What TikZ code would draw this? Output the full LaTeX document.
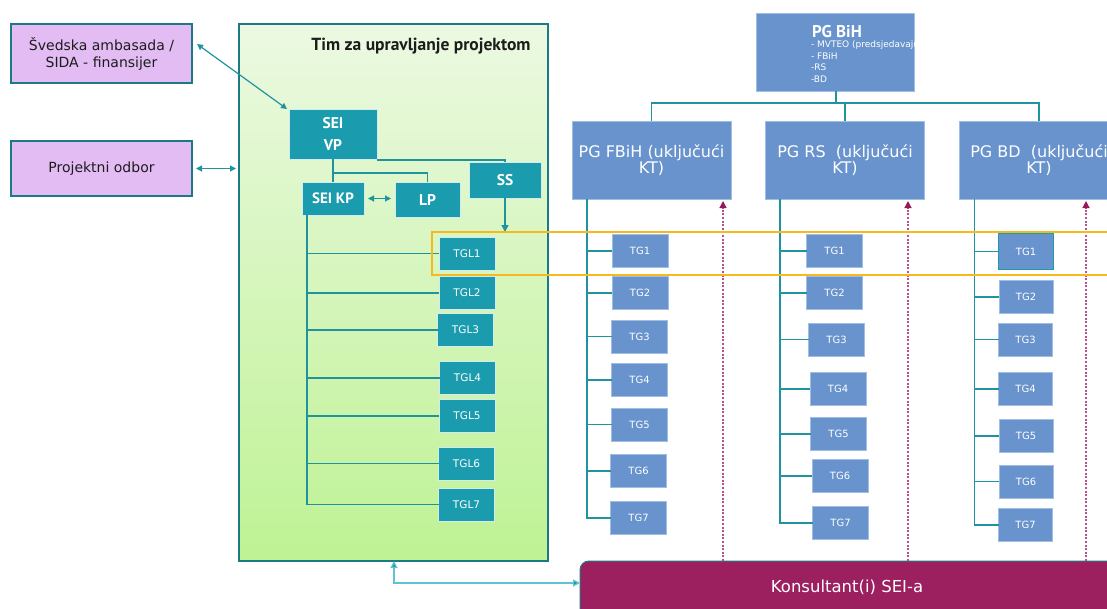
\documentclass[tikz,border=0pt]{standalone}
\usepackage{fontspec}
\setmainfont{DejaVu Sans}
\newfontfamily\headfont{PT Sans}
\usetikzlibrary{arrows.meta}

\definecolor{tealfill}{RGB}{26,156,174}
\definecolor{tealline}{RGB}{32,148,158}
\definecolor{tealdark}{RGB}{28,122,134}
\definecolor{bluefill}{RGB}{104,147,205}
\definecolor{blueedge}{RGB}{160,190,228}
\definecolor{violet}{RGB}{226,188,243}
\definecolor{greentop}{RGB}{236,249,226}
\definecolor{greenbot}{RGB}{190,242,148}
\definecolor{amber}{RGB}{246,186,28}
\definecolor{plum}{RGB}{156,31,96}
\definecolor{plumdash}{RGB}{184,80,140}
\definecolor{plumtip}{RGB}{150,25,90}
\definecolor{lightteal}{RGB}{96,196,208}
\definecolor{darktext}{RGB}{28,28,28}

\newcommand{\fs}[1]{\fontsize{#1}{#1}\selectfont}
\newcommand{\hb}[1]{\headfont\bfseries\fontsize{#1}{#1}\selectfont}

\begin{document}
\begin{tikzpicture}[x=1pt,y=-1pt,
  every node/.style={inner sep=0pt, outer sep=0pt},
  partner/.style={draw=tealdark, line width=1.3pt, fill=violet, text=darktext,
    align=center, font=\fs{14}, minimum width=181pt},
  tealbox/.style={draw=white!80!tealfill, line width=0.8pt, fill=tealfill, text=white,
    align=center},
  tglbox/.style={tealbox, minimum width=56pt, minimum height=33pt, font=\fs{10.5}},
  pgbox/.style={draw=blueedge, line width=0.6pt, fill=bluefill, text=white,
    align=center, minimum width=159pt, minimum height=78pt, font=\fs{16}},
  tgbox/.style={draw=blueedge, line width=0.6pt, fill=bluefill, text=white,
    minimum width=56pt, minimum height=33pt, font=\fs{10}},
  memberline/.style={anchor=base west, text=white, font=\fs{9}},
  conn/.style={draw=tealline, line width=1.5pt},
  biarrow/.style={draw=tealline, line width=1.2pt,
    {Triangle[length=6pt,width=6pt]}-{Triangle[length=6pt,width=6pt]}},
  lightarrow/.style={draw=lightteal, line width=1.2pt,
    {Triangle[length=7pt,width=7pt,fill=tealline]}-{Triangle[length=7pt,width=7pt,fill=tealline]}},
  dasharrow/.style={draw=plumdash, line width=1.2pt, dash pattern=on 2pt off 1.6pt,
    -{Triangle[length=7pt,width=7pt,fill=plumtip,color=plumtip]}}]

\useasboundingbox (0,0) rectangle (1107,608);
\fill[white] (0,0) rectangle (1107,608);

% ---------- left: partners and project management team ----------
\node[partner, minimum height=59pt] (sweden) at (101.5,53.5)
  {Švedska ambasada /\\[3pt] SIDA - finansijer};
\node[partner, minimum height=55pt] (board) at (101.5,168.5) {Projektni odbor};

\node[draw=tealdark, line width=1.3pt, top color=greentop, bottom color=greenbot,
  minimum width=309pt, minimum height=537pt] (team) at (393.5,292.5) {};
\node[font=\hb{17.5}, text=darktext] (title) at (421,46.5) {Tim za upravljanje projektom};

\node[tealbox, minimum width=88pt, minimum height=50pt, font=\hb{15.5}] (vp)
  at (333,134) {SEI\\[7pt]VP};
\node[tealbox, minimum width=72pt, minimum height=36pt, font=\hb{15.5}] (ss)
  at (505,180) {SS};
\node[tealbox, minimum width=62pt, minimum height=33pt, font=\hb{15}] (kp)
  at (333,198.5) {SEI KP};
\node[tealbox, minimum width=65pt, minimum height=35pt, font=\hb{15.5}] (lp)
  at (427.5,199.5) {LP};

\node[tglbox] (tgl1) at (467,253.5) {TGL1};
\node[tglbox] (tgl2) at (467,293) {TGL2};
\node[tglbox] (tgl3) at (465.5,330) {TGL3};
\node[tglbox] (tgl4) at (467.5,378) {TGL4};
\node[tglbox] (tgl5) at (467,416) {TGL5};
\node[tglbox] (tgl6) at (466.5,463.5) {TGL6};
\node[tglbox] (tgl7) at (466.5,504.5) {TGL7};

% links inside the team
\coordinate (vpjoin) at (333,173);
\coordinate (ssbus) at (505,160);
\draw[conn] (vp.south) -- (kp.north);
\draw[conn] (vpjoin) -| (lp.north);
\draw[conn] (vp.south east |- ssbus) -- (ssbus) -- (ss.north);
\draw[biarrow] ([xshift=4pt]kp.east) -- ([xshift=-4pt]lp.west |- kp.east);
\draw[conn, -{Triangle[length=7pt,width=7pt]}] (ss.south) -- (ss.south |- 0,232);

\coordinate (kpspine) at ([xshift=5pt]kp.south west);
\draw[conn] (kpspine) |- (tgl7.west);
\foreach \t in {tgl1,tgl2,tgl3,tgl4,tgl5,tgl6}
  \draw[conn] (\t.west) -- (\t.west -| kpspine);

% links to partners
\coordinate (swedtip) at (197,44);
\coordinate (vptip) at (287,109);
\draw[biarrow] (swedtip) -- (vptip);
\draw[biarrow] ([xshift=4pt]board.east) -- ([xshift=-3pt]board.east -| team.west);

% ---------- right: working groups ----------
\node[pgbox, minimum width=158pt] (pgbih) at (835,52) {};
\begin{scope}
  \clip (pgbih.south west) rectangle (pgbih.north east);
  \node[anchor=base west, text depth=0pt, text=white, font=\hb{17}] (bihtitle)
    at (812,37) {PG BiH};
  \node[memberline] (bih1) at (811,47.5) {- MVTEO (predsjedavajući)};
  \node[memberline] (bih2) at (811,59) {- FBiH};
  \node[memberline] (bih3) at (811,70.5) {-RS};
  \node[memberline] (bih4) at (811,82) {-BD};
\end{scope}

\node[pgbox] (pgf) at (651.5,160) {PG FBiH (uključući\\[0pt]KT)};
\node[pgbox] (pgrs) at (845,160) {PG RS\ \ (uključući\\[0pt]KT)};
\node[pgbox] (pgbd) at (1039,160) {PG BD\ \ (uključući\\[0pt]KT)};

\coordinate (bus) at (836,103);
\draw[conn] (pgbih.south -| bus) -- (bus);
\draw[conn] (pgf.north) |- (bus) -| (pgbd.north);
\draw[conn] (pgrs.north) -- (pgrs.north |- bus);

% FBiH groups
\node[tgbox] (f1) at (640,251) {TG1};
\node[tgbox] (f2) at (640,293) {TG2};
\node[tgbox] (f3) at (639.5,336.5) {TG3};
\node[tgbox] (f4) at (639.5,380) {TG4};
\node[tgbox] (f5) at (639.5,424.5) {TG5};
\node[tgbox] (f6) at (638.5,471) {TG6};
\node[tgbox] (f7) at (638.5,518) {TG7};
\coordinate (fspine) at ([xshift=15pt]pgf.south west);
\draw[conn] (fspine) |- (f7.west);
\foreach \t in {f1,f2,f3,f4,f5,f6}
  \draw[conn] (\t.west) -- (\t.west -| fspine);

% RS groups
\node[tgbox] (r1) at (834.5,251) {TG1};
\node[tgbox] (r2) at (834.5,293) {TG2};
\node[tgbox] (r3) at (836.5,339.5) {TG3};
\node[tgbox] (r4) at (838,389) {TG4};
\node[tgbox] (r5) at (838.5,434) {TG5};
\node[tgbox] (r6) at (840,476) {TG6};
\node[tgbox] (r7) at (840.5,523) {TG7};
\coordinate (rspine) at ([xshift=14.5pt]pgrs.south west);
\draw[conn] (rspine) |- (r7.west);
\foreach \t in {r1,r2,r3,r4,r5,r6}
  \draw[conn] (\t.west) -- (\t.west -| rspine);

% BD groups
\node[tgbox, minimum width=55pt, minimum height=36pt, draw=tealfill, line width=1.6pt] (b1)
  at (1026,251.5) {TG1};
\node[tgbox, minimum width=54pt] (b2) at (1026,297) {TG2};
\node[tgbox, minimum width=54pt] (b3) at (1025.5,339.5) {TG3};
\node[tgbox, minimum width=54pt] (b4) at (1025.5,389) {TG4};
\node[tgbox, minimum width=54pt] (b5) at (1026,436) {TG5};
\node[tgbox, minimum width=54pt] (b6) at (1026,481.5) {TG6};
\node[tgbox, minimum width=54pt] (b7) at (1025.5,525) {TG7};
\coordinate (bspine) at ([xshift=15pt]pgbd.south west);
\draw[conn] (bspine) |- (b7.west);
\foreach \t in {b1,b2,b3,b4,b5,b6}
  \draw[conn] (\t.west) -- (\t.west -| bspine);

% ---------- consultants ----------
\node[draw=tealdark, line width=1pt, fill=plum, rounded corners=9pt,
  minimum width=550pt, minimum height=70pt] (kons) at (855,596) {};
\node[text=white, font=\fs{16.5}] (konstext) at (847,587) {Konsultant(i) SEI-a};

\coordinate (d1) at (723,0);
\coordinate (d2) at (908,0);
\coordinate (d3) at (1086,0);
\draw[dasharrow] (d1 |- kons.north) -- ([yshift=-2pt]d1 |- pgf.south);
\draw[dasharrow] (d2 |- kons.north) -- ([yshift=-2pt]d2 |- pgrs.south);
\draw[dasharrow] (d3 |- kons.north) -- ([yshift=-2pt]d3 |- pgbd.south);

\coordinate (teamlink) at (394,583);
\draw[lightarrow] (team.south -| teamlink) |- (kons.west |- teamlink);

% ---------- highlighted TG1 row ----------
\draw[amber, line width=1.8pt] (1120,232) -- (432,232) -- (432,275) -- (1120,275);

\end{tikzpicture}
\end{document}
